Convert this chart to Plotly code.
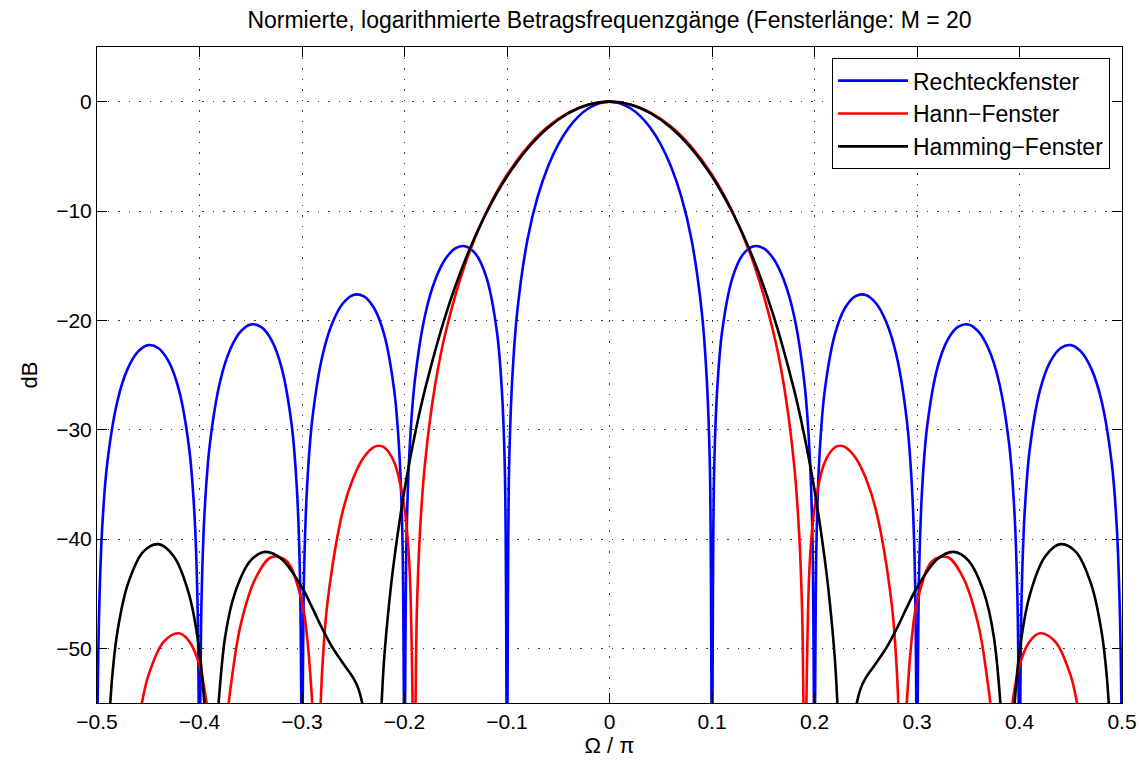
import plotly.graph_objects as go

# ---- data (Omega/pi , dB) ----
rect_x = [-0.5, -0.498, -0.495, -0.49, -0.48, -0.47, -0.46, -0.45, -0.44, -0.43, -0.42, -0.41, -0.405, -0.402,
          -0.4, -0.398, -0.395, -0.39, -0.38, -0.37, -0.36, -0.35, -0.34, -0.33, -0.32, -0.31, -0.305, -0.302,
          -0.3, -0.298, -0.295, -0.29, -0.28, -0.27, -0.26, -0.25, -0.24, -0.23, -0.22, -0.21, -0.205, -0.202,
          -0.2, -0.198, -0.195, -0.19, -0.18, -0.17, -0.16, -0.15, -0.14, -0.13, -0.12, -0.11, -0.105, -0.102,
          -0.1, -0.098, -0.095, -0.09, -0.08, -0.07, -0.06, -0.05, -0.04, -0.03, -0.02, -0.01,
          0.0,
          0.01, 0.02, 0.03, 0.04, 0.05, 0.06, 0.07, 0.08, 0.09, 0.095, 0.098, 0.1,
          0.102, 0.105, 0.11, 0.12, 0.13, 0.14, 0.15, 0.16, 0.17, 0.18, 0.19, 0.195, 0.198, 0.2,
          0.202, 0.205, 0.21, 0.22, 0.23, 0.24, 0.25, 0.26, 0.27, 0.28, 0.29, 0.295, 0.298, 0.3,
          0.302, 0.305, 0.31, 0.32, 0.33, 0.34, 0.35, 0.36, 0.37, 0.38, 0.39, 0.395, 0.398, 0.4,
          0.402, 0.405, 0.41, 0.42, 0.43, 0.44, 0.45, 0.46, 0.47, 0.48, 0.49, 0.495, 0.498, 0.5]
rect_db = [-60, -47.02, -39.05, -33.07, -27.35, -24.42, -22.87, -22.27, -22.55, -23.78, -26.39, -31.79, -37.61, -45.48,
           -60, -45.41, -37.42, -31.41, -25.64, -22.65, -21.04, -20.38, -20.60, -21.76, -24.30, -29.62, -35.40, -43.25,
           -60, -43.15, -35.14, -29.09, -23.22, -20.15, -18.44, -17.68, -17.78, -18.83, -21.24, -26.43, -32.14, -39.94,
           -60, -39.78, -31.72, -25.59, -19.55, -16.29, -14.37, -13.39, -13.24, -14.00, -16.10, -20.93, -26.43, -34.11,
           -60, -33.78, -25.58, -19.20, -12.60, -8.67, -5.93, -3.91, -2.41, -1.32, -0.58, -0.14,
           0.0,
           -0.14, -0.58, -1.32, -2.41, -3.91, -5.93, -8.67, -12.60, -19.20, -25.58, -33.78, -60,
           -34.11, -26.43, -20.93, -16.10, -14.00, -13.24, -13.39, -14.37, -16.29, -19.55, -25.59, -31.72, -39.78, -60,
           -39.94, -32.14, -26.43, -21.24, -18.83, -17.78, -17.68, -18.44, -20.15, -23.22, -29.09, -35.14, -43.15, -60,
           -43.25, -35.40, -29.62, -24.30, -21.76, -20.60, -20.38, -21.04, -22.65, -25.64, -31.41, -37.42, -45.41, -60,
           -45.48, -37.61, -31.79, -26.39, -23.78, -22.55, -22.27, -22.87, -24.42, -27.35, -33.07, -39.05, -47.02, -60]

hann_x = [-0.5, -0.49, -0.476, -0.46, -0.45, -0.435, -0.42, -0.41, -0.40, -0.39, -0.381, -0.37, -0.36, -0.345,
          -0.33, -0.315, -0.30, -0.295, -0.29, -0.2857, -0.28, -0.275, -0.26, -0.25, -0.24, -0.23, -0.225, -0.22,
          -0.21, -0.2, -0.195, -0.1905, -0.188, -0.185, -0.18, -0.17, -0.16, -0.14, -0.12, -0.10, -0.08, -0.06,
          -0.04, -0.02,
          0.0,
          0.02, 0.04, 0.06, 0.08, 0.10, 0.12, 0.14, 0.16, 0.17, 0.18, 0.185, 0.188, 0.1905, 0.195, 0.2, 0.21,
          0.22, 0.225, 0.23, 0.24, 0.25, 0.26, 0.275, 0.28, 0.2857, 0.29, 0.295, 0.30, 0.315, 0.33, 0.345, 0.36,
          0.37, 0.381, 0.39, 0.40, 0.41, 0.42, 0.435, 0.45, 0.46, 0.476, 0.49, 0.5]
hann_db = [-56.1, -57.0, -62, -56.7, -52.52, -49.40, -48.62, -49.36, -51.55, -56.9, -62, -53.82, -47.91, -43.53,
           -41.67, -42.00, -45.80, -49.0, -55.0, -62, -51.52, -45.69, -37.36, -34.42, -32.56, -31.60, -31.47, -31.61,
           -32.98, -37.25, -42.81, -62, -46.85, -39.48, -33.08, -25.85, -21.13, -14.62, -10.08, -6.69, -4.15, -2.28,
           -1.00, -0.25,
           0.0,
           -0.25, -1.00, -2.28, -4.15, -6.69, -10.08, -14.62, -21.13, -25.85, -33.08, -39.48, -46.85, -62, -42.81,
           -37.25, -32.98, -31.61, -31.47, -31.60, -32.56, -34.42, -37.36, -45.69, -51.52, -62, -55.0, -49.0,
           -45.80, -42.00, -41.67, -43.53, -47.91, -53.82, -62, -56.9, -51.55, -49.36, -48.62, -49.40, -52.52,
           -56.7, -62, -57.0, -56.1]

hamming_x = [-0.5, -0.4936, -0.49, -0.485, -0.48, -0.47, -0.455, -0.44, -0.425, -0.41, -0.40, -0.395, -0.388,
             -0.385, -0.375, -0.365, -0.35, -0.336, -0.32, -0.30, -0.29, -0.28, -0.27, -0.26, -0.25, -0.245,
             -0.24, -0.235, -0.23, -0.225, -0.22, -0.215, -0.21, -0.20, -0.19, -0.18, -0.16, -0.14, -0.12, -0.10,
             -0.08, -0.06, -0.04, -0.02,
             0.0,
             0.02, 0.04, 0.06, 0.08, 0.10, 0.12, 0.14, 0.16, 0.18, 0.19, 0.20, 0.21, 0.215, 0.22, 0.225, 0.23,
             0.235, 0.24, 0.245, 0.25, 0.26, 0.27, 0.28, 0.29, 0.30, 0.32, 0.336, 0.35, 0.365, 0.375, 0.385,
             0.388, 0.395, 0.40, 0.41, 0.425, 0.44, 0.455, 0.47, 0.48, 0.485, 0.49, 0.4936, 0.5]
hamming_db = [-54.9, -66, -59.7, -52.4, -48.43, -44.15, -41.17, -40.47, -41.60, -45.13, -50.28, -55.4, -66,
              -60.0, -48.96, -44.81, -41.96, -41.18, -41.83, -44.44, -46.28, -48.24, -49.97, -51.36, -52.70, -53.68,
              -55.6, -59.4, -65, -59.6, -51.15, -45.89, -41.84, -35.51, -30.51, -26.32, -19.56, -14.30, -10.14, -6.85,
              -4.29, -2.38, -1.05, -0.26,
              0.0,
              -0.26, -1.05, -2.38, -4.29, -6.85, -10.14, -14.30, -19.56, -26.32, -30.51, -35.51, -41.84, -45.89,
              -51.15, -59.6, -65, -59.4, -55.6, -53.68, -52.70, -51.36, -49.97, -48.24, -46.28, -44.44, -41.83,
              -41.18, -41.96, -44.81, -48.96, -60.0, -66, -55.4, -50.28, -45.13, -41.60, -40.47, -41.17, -44.15,
              -48.43, -52.4, -59.7, -66, -54.9]

legend_labels = ["Rechteckfenster", "Hann\u2212Fenster", "Hamming\u2212Fenster"]
series_colors = ["#0000ff", "#ff0000", "#000000"]

x_ticks = [-0.5, -0.4, -0.3, -0.2, -0.1, 0.0, 0.1, 0.2, 0.3, 0.4, 0.5]
x_tick_text = ["\u22120.5", "\u22120.4", "\u22120.3", "\u22120.2", "\u22120.1", "0",
               "0.1", "0.2", "0.3", "0.4", "0.5"]
y_ticks = [-50, -40, -30, -20, -10, 0]
y_tick_text = ["\u221250", "\u221240", "\u221230", "\u221220", "\u221210", "0"]

title_text = "Normierte, logarithmierte Betragsfrequenzg\u00e4nge (Fensterl\u00e4nge: M = 20"

FONT = "Liberation Sans, Arial, Helvetica, sans-serif"

fig = go.Figure()
for xs, ys, lab, col in [(rect_x, rect_db, legend_labels[0], series_colors[0]),
                         (hann_x, hann_db, legend_labels[1], series_colors[1]),
                         (hamming_x, hamming_db, legend_labels[2], series_colors[2])]:
    fig.add_trace(go.Scatter(x=xs, y=ys, mode="lines", name=lab,
                             line=dict(color=col, width=2.6, shape="spline", smoothing=1.0)))

axis_common = dict(
    showline=True, linecolor="black", linewidth=1, mirror="ticks",
    ticks="inside", ticklen=10, tickwidth=1, tickcolor="black",
    showgrid=True, gridcolor="#3a3a3a", gridwidth=1, griddash="1.5px,9px",
    zeroline=False,
    tickfont=dict(family=FONT, size=21, color="black"),
)

fig.update_xaxes(range=[-0.5, 0.5], tickmode="array", tickvals=x_ticks, ticktext=x_tick_text,
                 title=dict(text="\u03a9 / \u03c0", font=dict(family=FONT, size=22, color="black"), standoff=0),
                 **axis_common)
fig.update_yaxes(range=[-55, 5], tickmode="array", tickvals=y_ticks, ticktext=y_tick_text,
                 title=dict(text="dB", font=dict(family=FONT, size=22, color="black"), standoff=12),
                 **axis_common)

fig.update_layout(
    width=1139, height=763,
    margin=dict(l=97, r=17, t=47, b=60, autoexpand=False),
    paper_bgcolor="white", plot_bgcolor="white",
    title=dict(text=title_text, x=0.5, xref="paper", xanchor="center",
               y=1 - 20 / 763, yref="container", yanchor="middle",
               font=dict(family=FONT, size=23, color="black")),
    legend=dict(x=0.9883, xanchor="right", y=0.983, yanchor="top",
                bgcolor="white", bordercolor="black", borderwidth=1,
                font=dict(family=FONT, size=23, color="black"),
                itemwidth=70, traceorder="normal"),
    showlegend=True,
)

fig.write_html("out.html")
